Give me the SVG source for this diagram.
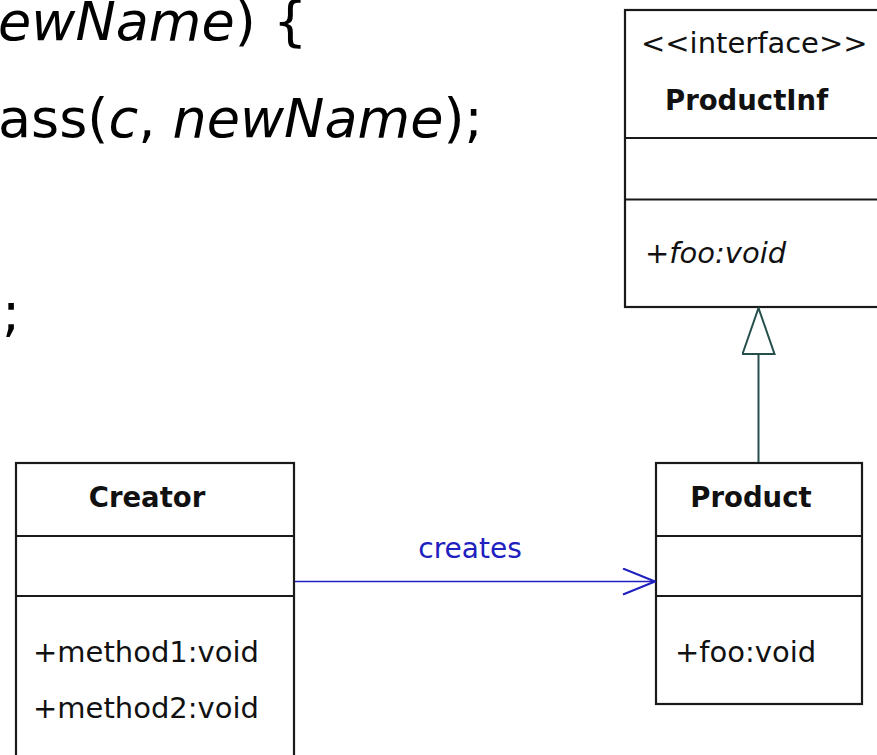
<svg xmlns="http://www.w3.org/2000/svg" width="877" height="755" viewBox="0 0 877 755">
  <style>
    .code { font-family: "DejaVu Sans", Verdana, sans-serif; font-size: 54px; fill: #000; }
    .it { font-style: italic; }
    .box { fill: #fff; stroke: #1a1a1a; stroke-width: 2.2; }
    .sep { stroke: #1a1a1a; stroke-width: 2.2; }
    .name { font-family: "DejaVu Sans", Verdana, sans-serif; font-size: 27.5px; font-weight: bold; fill: #111; }
    .txt { font-family: "DejaVu Sans", Verdana, sans-serif; font-size: 29px; fill: #111; }
    .lbl { font-family: "DejaVu Sans", Verdana, sans-serif; font-size: 28px; fill: #2020c0; }
  </style>
  <defs>
    <marker id="open-arrow" viewBox="0 0 34 28" refX="33" refY="14" markerWidth="34" markerHeight="28" markerUnits="userSpaceOnUse" orient="auto">
      <path d="M1,1 L33,14 L1,27" fill="none" stroke="#2020c0" stroke-width="2"/>
    </marker>
    <marker id="hollow-tri" viewBox="0 0 48 34" refX="47" refY="17" markerWidth="48" markerHeight="34" markerUnits="userSpaceOnUse" orient="auto">
      <path d="M1,1 L47,17 L1,33 Z" fill="#fff" stroke="#244f4c" stroke-width="2"/>
    </marker>
  </defs>
  <rect width="877" height="755" fill="#fff"/>

  <!-- source code fragment -->
  <g id="code">
    <text class="code" x="-2" y="40"><tspan class="it">ewName</tspan>) {</text>
    <text class="code" x="-2" y="137">ass(<tspan class="it">c</tspan>, <tspan class="it">newName</tspan>);</text>
    <text class="code" x="2" y="331">;</text>
  </g>

  <!-- interface ProductInf -->
  <g id="productinf">
    <rect class="box" x="625" y="10" width="262" height="297"/>
    <line class="sep" x1="625" y1="138" x2="877" y2="138"/>
    <line class="sep" x1="625" y1="199.5" x2="877" y2="199.5"/>
    <text class="txt" x="641" y="53">&lt;&lt;interface&gt;&gt;</text>
    <text class="name" x="665" y="110">ProductInf</text>
    <text class="txt it" x="645" y="263">+foo:void</text>
  </g>

  <!-- class Creator -->
  <g id="creator">
    <rect class="box" x="16" y="463" width="278" height="310"/>
    <line class="sep" x1="16" y1="536" x2="294" y2="536"/>
    <line class="sep" x1="16" y1="596" x2="294" y2="596"/>
    <text class="name" x="147" y="507" text-anchor="middle">Creator</text>
    <text class="txt" x="33" y="662">+method1:void</text>
    <text class="txt" x="33" y="718">+method2:void</text>
  </g>

  <!-- class Product -->
  <g id="product">
    <rect class="box" x="656" y="463" width="206" height="241"/>
    <line class="sep" x1="656" y1="536" x2="862" y2="536"/>
    <line class="sep" x1="656" y1="596" x2="862" y2="596"/>
    <text class="name" x="751" y="507" text-anchor="middle">Product</text>
    <text class="txt" x="675" y="662">+foo:void</text>
  </g>

  <!-- connectors -->
  <g id="connectors">
    <line x1="295" y1="581.5" x2="655" y2="581.5" stroke="#2020c0" stroke-width="1.6" marker-end="url(#open-arrow)"/>
    <text class="lbl" x="470" y="558" text-anchor="middle">creates</text>
    <line x1="758.5" y1="462" x2="758.5" y2="308" stroke="#244f4c" stroke-width="2" marker-end="url(#hollow-tri)"/>
  </g>
</svg>
